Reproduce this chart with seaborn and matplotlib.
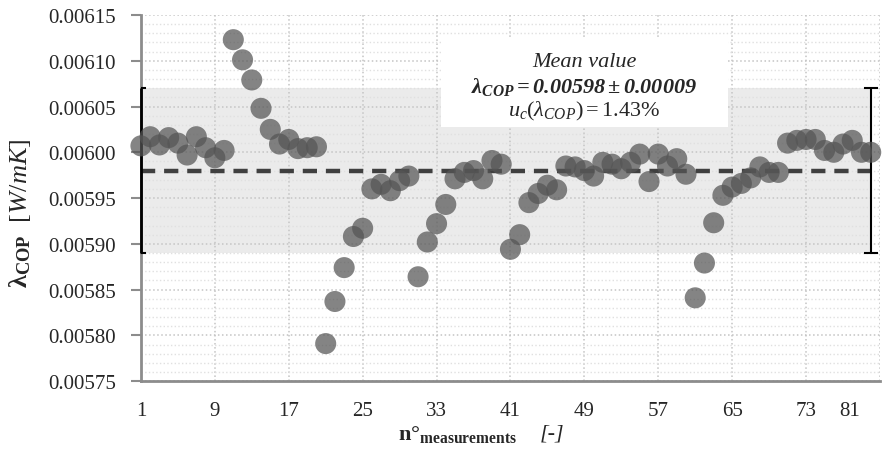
import matplotlib
matplotlib.use("Agg")
import matplotlib.pyplot as plt
from matplotlib.ticker import MultipleLocator, FormatStrFormatter
from matplotlib.transforms import ScaledTranslation
import seaborn as sns
import pandas as pd

# measured thermal conductivity, one value per measurement
n_meas = list(range(1, 81))
lambda_cop = [
    0.006007, 0.006017, 0.006008, 0.006016, 0.006010, 0.005997, 0.006017, 0.006005, 0.005994, 0.006002,
    0.006123, 0.006101, 0.006079, 0.006048, 0.006025, 0.006009, 0.006014, 0.006004, 0.006005, 0.006006,
    0.005791, 0.005837, 0.005874, 0.005908, 0.005917, 0.005960, 0.005965, 0.005958, 0.005969, 0.005974,
    0.005864, 0.005902, 0.005922, 0.005943, 0.005971, 0.005978, 0.005980, 0.005971, 0.005991, 0.005987,
    0.005894, 0.005910, 0.005945, 0.005955, 0.005964, 0.005959, 0.005985, 0.005984, 0.005980, 0.005974,
    0.005989, 0.005987, 0.005982, 0.005989, 0.005998, 0.005968, 0.005998, 0.005985, 0.005993, 0.005976,
    0.005841, 0.005879, 0.005923, 0.005953, 0.005962, 0.005966, 0.005972, 0.005984, 0.005978, 0.005978,
    0.006010, 0.006013, 0.006014, 0.006014, 0.006002, 0.006000, 0.006009, 0.006013, 0.006000, 0.006000,
]
mean_val = 0.00598
unc_val = 0.00009
x_ticks = list(range(1, 82, 8))

df = pd.DataFrame({"n": n_meas, "lam": lambda_cop})

sns.set_style("white")
plt.rcParams["font.family"] = ["Liberation Serif", "DejaVu Serif"]
plt.rcParams["mathtext.fontset"] = "custom"
plt.rcParams["mathtext.rm"] = "Liberation Serif"
plt.rcParams["mathtext.it"] = "Liberation Serif:italic"
plt.rcParams["mathtext.bf"] = "Liberation Serif:bold"
plt.rcParams["mathtext.bfit"] = "Liberation Serif:italic:bold"

fig = plt.figure(figsize=(8.92, 4.56), dpi=100)
ax = fig.add_axes([0.158, 0.162, 0.8285, 0.803])

# uncertainty band and mean line
x_first, x_last = n_meas[0], n_meas[-1]
lo, hi = mean_val - unc_val, mean_val + unc_val
ax.fill_between([x_first, x_last], lo, hi, color="#ebebeb", lw=0, zorder=0.2)
ax.plot([x_first, x_last], [mean_val, mean_val], color="#404040", lw=3.2,
        dashes=(3.2, 2.0), zorder=3)
ax.errorbar([x_last], [mean_val], yerr=unc_val, fmt="none",
            ecolor="black", elinewidth=1.5, capsize=5, capthick=1.5, zorder=4)
# left bar sits on the axis, only the inner half of its caps shows
cap_half = 0.55
ax.vlines(x_first, lo, hi, color="black", lw=2, zorder=4, clip_on=False)
ax.hlines([lo, hi], x_first, x_first + cap_half, color="black", lw=1.5, zorder=4)

sns.scatterplot(data=df, x="n", y="lam", ax=ax, color="#555555", alpha=0.72,
                s=230, edgecolor="none", clip_on=False, zorder=5, legend=False)

ax.set_xlim(1, 81)
ax.set_ylim(0.00575, 0.00615)
ax.set_xticks(x_ticks)
ax.yaxis.set_major_locator(MultipleLocator(0.00005))
ax.yaxis.set_minor_locator(MultipleLocator(0.00001))
ax.yaxis.set_major_formatter(FormatStrFormatter("%.5f"))

ax.set_axisbelow(True)
ax.grid(True, which="major", axis="both", ls=":", color="#c4c4c4", lw=1.1)
ax.grid(True, which="minor", axis="y", ls=":", color="#e0e0e0", lw=1.0)

for side in ["top", "right"]:
    ax.spines[side].set_visible(False)
for side in ["left", "bottom"]:
    ax.spines[side].set_color("#8c8c8c")
    ax.spines[side].set_linewidth(2)

ax.tick_params(axis="y", which="major", length=7, width=1.5, color="#8c8c8c",
               labelsize=15, pad=11, direction="out", left=True)
ax.tick_params(axis="x", which="major", length=0, labelsize=15, pad=14)
ax.tick_params(which="minor", length=0)

# Excel pulls the last category label inward
last_lab = ax.get_xticklabels()[-1]
last_lab.set_transform(last_lab.get_transform() + ScaledTranslation(-0.3, 0, fig.dpi_scale_trans))

ax.set_xlabel(r"n°$_{\mathbf{measurements}}$", fontsize=16, fontweight="bold")
ax.xaxis.set_label_coords(0.428, -0.115)
ax.text(0.556, -0.115, "[-]", transform=ax.transAxes, ha="center", va="top",
        fontsize=16, style="italic")
ax.set_ylabel(r"$\mathbf{\lambda}_{\mathbf{COP}}$  $\mathit{[W/mK]}$", fontsize=19)
ax.yaxis.set_label_coords(-0.146, 0.46)

# annotation box
box = plt.Rectangle((0.406, 0.694), 0.388, 0.24, transform=ax.transAxes,
                    facecolor="white", edgecolor="none", zorder=3)
ax.add_patch(box)
ax.text(0.600, 0.874, "Mean value", transform=ax.transAxes, ha="center", va="center",
        fontsize=16, style="italic", zorder=4)
ax.text(0.600, 0.806, r"$\mathbfit{\lambda_{COP} = 0.00598 \pm 0.00009}$", transform=ax.transAxes,
        ha="center", va="center", fontsize=16, zorder=4)
ax.text(0.600, 0.738, r"$\mathit{u_{c}(\lambda_{COP}) = 1.43\%}$", transform=ax.transAxes,
        ha="center", va="center", fontsize=16, zorder=4)

fig.savefig("out.png", dpi=100)
